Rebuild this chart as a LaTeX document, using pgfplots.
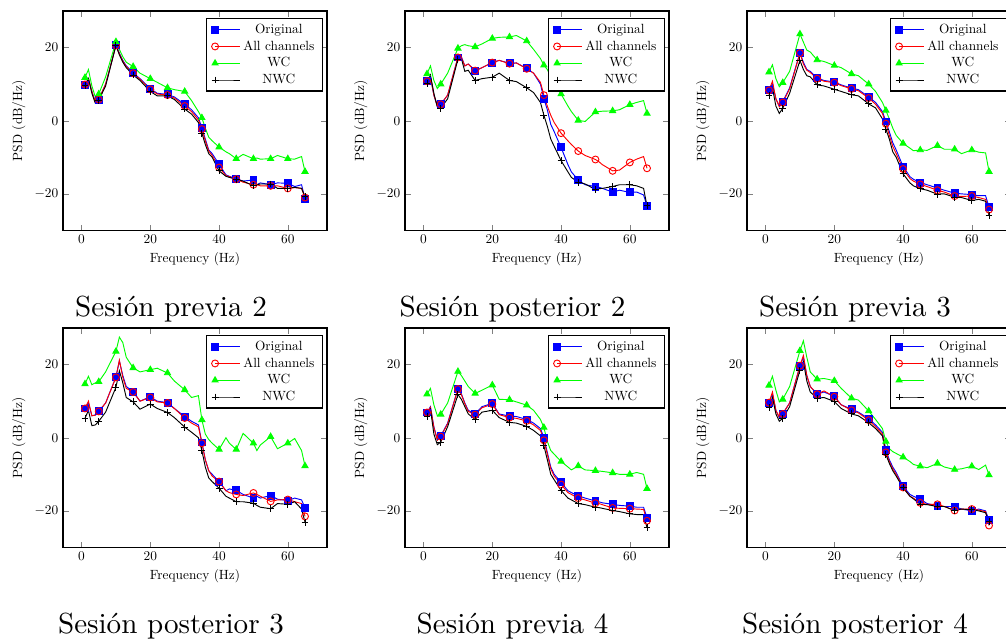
\documentclass[border=0pt]{standalone}
\usepackage{pgfplots}
\usepackage{pgfplotstable}
\pgfplotsset{compat=1.18}

% Columns: f = frequency (Hz), o = Original, a = All channels, w = WC, n = NWC
\pgfplotstableread{
f o a w n
1 9.9 9.9 11.8 9.6
2 11.5 11.5 14.0 11.5
3 8.0 8.0 9.5 7.5
4 5.2 5.0 6.5 4.8
5 5.8 5.8 7.3 5.6
7 10.0 10.0 12.0 9.5
10 20.6 20.6 21.6 20.6
11 18.5 18.3 19.5 18.0
12 16.5 16.3 17.5 16.0
13 15.0 14.8 16.0 14.5
15 13.1 13.0 14.8 12.5
17 11.5 11.3 13.0 11.0
20 8.8 8.6 11.5 8.0
22 7.5 7.3 10.5 6.8
25 7.2 7.0 9.0 6.8
27 6.5 6.2 8.5 5.8
30 4.5 4.0 8.0 3.2
32 3.0 2.5 5.5 1.8
34 0.8 0.2 2.5 -0.5
35 -1.9 -2.3 0.8 -3.4
36 -5.0 -5.5 -2.0 -6.5
37 -8.0 -8.3 -4.5 -9.0
38 -9.0 -9.5 -5.5 -10.0
40 -11.9 -12.8 -7.2 -13.7
42 -14.8 -15.0 -8.5 -15.2
43 -15.2 -15.3 -9.0 -15.5
45 -15.9 -16.0 -10.4 -16.0
47 -16.5 -16.8 -9.2 -16.5
50 -16.2 -17.5 -10.4 -17.8
51 -17.5 -17.5 -10.2 -17.5
52 -17.0 -17.8 -10.5 -17.3
55 -17.5 -17.8 -10.4 -17.3
57 -17.0 -17.8 -9.5 -18.5
60 -17.1 -18.5 -10.4 -18.5
62 -18.0 -18.3 -10.5 -18.2
64 -17.5 -18.5 -9.8 -18.5
65 -21.3 -21.0 -13.9 -20.8
}\previaDos

\pgfplotstableread{
f o a w n
1 10.8 10.8 12.8 10.2
2 12.0 12.0 15.0 12.5
3 7.0 7.0 11.0 7.5
4 4.0 4.0 8.8 3.8
5 4.5 4.5 10.0 3.4
7 7.0 7.0 13.0 6.0
10 17.3 17.3 19.8 16.8
11 17.5 17.3 20.5 17.0
12 15.0 15.0 20.8 13.5
13 15.5 15.5 20.5 13.8
15 13.6 13.7 20.2 11.0
17 14.5 14.5 21.0 11.5
20 15.9 15.9 22.5 11.9
22 16.5 16.5 22.8 13.0
25 15.7 15.6 22.9 11.0
27 15.8 15.8 23.3 10.7
30 14.3 14.2 21.8 9.0
32 13.0 13.0 19.5 7.7
34 10.0 10.5 17.0 5.0
35 6.0 7.0 15.2 1.5
36 3.0 4.0 14.0 -1.5
37 -1.0 1.5 12.0 -5.0
38 -3.0 -0.5 10.0 -7.0
40 -7.3 -3.4 7.3 -10.9
42 -12.0 -5.5 4.0 -14.0
43 -14.0 -6.5 2.5 -15.5
45 -16.2 -8.3 0.1 -16.8
47 -17.5 -9.5 -0.2 -17.3
50 -18.0 -10.6 2.4 -18.8
51 -18.2 -11.2 2.5 -18.6
52 -18.5 -12.0 2.6 -18.5
55 -19.5 -13.7 2.7 -18.0
57 -19.0 -13.5 3.0 -17.5
60 -19.6 -11.4 4.4 -17.5
62 -19.5 -10.5 5.0 -17.8
64 -20.3 -9.8 5.5 -18.5
65 -23.3 -13.0 2.0 -23.3
}\posteriorDos

\pgfplotstableread{
f o a w n
1 8.5 8.3 13.3 6.9
2 10.0 10.8 15.3 9.0
3 6.0 6.0 11.5 4.0
4 4.0 3.8 9.3 2.0
5 5.2 5.0 10.4 3.4
7 9.0 8.7 13.5 7.5
10 18.6 18.5 23.7 16.5
11 16.0 15.5 21.5 14.0
12 14.0 13.8 19.3 12.3
13 13.5 13.2 18.8 12.0
15 11.7 11.5 16.6 9.8
17 11.0 10.8 16.2 9.5
20 10.6 10.4 15.1 8.6
22 9.8 9.6 14.5 8.0
25 8.9 8.7 12.8 7.1
27 8.5 8.2 12.3 6.8
30 6.5 6.2 10.0 4.6
32 5.0 4.5 8.0 3.5
34 2.5 2.0 5.0 0.5
35 -0.2 -0.8 2.8 -2.3
36 -3.0 -4.0 0.5 -5.0
37 -6.0 -7.0 -2.0 -8.5
38 -8.0 -9.0 -4.0 -10.0
40 -12.5 -13.2 -6.2 -14.5
42 -15.3 -15.8 -7.5 -17.0
43 -16.0 -16.5 -8.2 -17.8
45 -16.9 -17.4 -8.0 -18.6
47 -17.5 -18.0 -8.1 -19.0
50 -18.4 -19.0 -6.8 -20.1
51 -18.7 -19.3 -7.3 -20.0
52 -19.0 -19.5 -7.8 -20.0
55 -19.8 -20.6 -7.8 -20.9
57 -20.0 -20.7 -9.0 -21.0
60 -20.2 -20.6 -8.0 -21.8
62 -20.5 -21.0 -8.6 -21.5
64 -20.5 -21.5 -8.8 -22.0
65 -23.6 -24.3 -13.9 -25.9
}\previaTres

\pgfplotstableread{
f o a w n
1 8.0 8.0 14.7 5.3
2 9.5 10.0 16.8 7.5
3 6.0 6.0 14.5 3.3
4 6.2 6.2 15.0 3.5
5 7.2 7.2 15.3 4.5
7 9.5 9.5 18.0 7.0
10 16.6 16.5 23.6 13.8
11 21.0 21.2 27.5 18.3
12 17.0 16.5 26.0 15.0
13 14.0 13.5 22.0 11.0
15 12.6 12.5 19.1 9.8
17 10.0 10.0 18.0 7.8
20 11.2 11.0 18.6 9.2
22 10.0 9.8 19.0 8.0
25 9.6 9.5 17.7 6.9
27 8.0 8.0 15.5 5.5
30 5.8 5.4 13.1 2.9
32 4.5 4.0 11.0 1.5
34 3.5 3.0 11.5 0.0
35 -1.3 -1.5 4.9 -3.5
36 -6.0 -6.0 1.0 -8.0
37 -9.0 -9.0 -0.5 -11.0
38 -10.0 -10.5 -1.5 -12.0
40 -12.0 -12.0 -3.2 -13.8
42 -14.5 -14.5 0.0 -16.0
43 -14.0 -15.0 -1.5 -16.5
45 -14.4 -15.5 -3.2 -17.5
47 -15.5 -15.8 1.2 -17.5
50 -16.5 -15.1 -1.5 -17.9
51 -16.0 -15.5 -3.5 -18.5
52 -16.5 -16.0 -2.0 -19.0
55 -15.8 -17.4 0.3 -19.4
57 -16.8 -17.0 -3.0 -18.0
60 -17.2 -16.9 -1.5 -18.2
62 -16.5 -17.5 -0.2 -17.5
64 -17.0 -18.0 -3.5 -19.5
65 -19.2 -21.5 -7.7 -23.1
}\posteriorTres

\pgfplotstableread{
f o a w n
1 6.9 6.9 11.9 5.9
2 8.5 8.3 13.5 7.8
3 3.0 2.8 9.0 1.0
4 -0.5 -0.7 6.0 -1.9
5 0.5 0.3 6.4 -1.2
7 4.0 3.8 9.5 3.0
10 13.4 13.3 18.1 11.8
11 12.0 11.8 17.0 10.5
12 9.5 9.3 15.5 8.5
13 7.5 7.2 14.0 6.5
15 6.5 6.3 12.1 5.0
17 8.5 8.2 13.0 7.0
20 9.4 9.2 14.4 7.5
22 6.5 6.3 10.5 5.5
25 5.9 5.5 10.4 4.2
27 5.8 5.3 9.8 4.0
30 5.0 4.6 8.9 3.1
32 4.0 3.5 7.5 2.0
34 2.5 2.0 5.0 0.5
35 0.0 -0.7 2.8 -2.2
36 -4.0 -4.5 -1.0 -6.0
37 -8.0 -8.5 -3.5 -10.0
38 -10.0 -10.5 -4.5 -11.5
40 -12.2 -12.8 -6.5 -14.4
42 -14.5 -15.0 -8.0 -16.5
43 -15.0 -15.5 -8.8 -17.0
45 -15.9 -16.5 -7.7 -18.0
47 -16.5 -17.0 -8.8 -18.3
50 -17.3 -17.9 -9.0 -19.0
51 -17.5 -18.0 -9.1 -19.1
52 -17.8 -18.3 -9.2 -19.3
55 -18.2 -19.2 -9.6 -19.9
57 -18.5 -19.3 -10.0 -20.2
60 -18.7 -19.4 -10.0 -20.8
62 -19.0 -19.5 -9.5 -21.0
64 -19.0 -19.6 -10.0 -21.0
65 -21.9 -22.7 -13.9 -24.6
}\previaCuatro

\pgfplotstableread{
f o a w n
1 9.6 9.6 14.3 8.3
2 12.0 12.5 16.8 11.0
3 7.5 7.5 13.0 6.5
4 5.5 5.5 9.8 4.5
5 6.6 6.5 10.5 5.3
7 9.5 9.5 14.0 8.5
10 19.7 19.7 23.8 18.5
11 22.0 22.5 26.5 20.8
12 17.0 17.0 22.0 15.5
13 14.0 14.0 18.0 12.5
15 11.9 11.9 16.0 10.8
17 12.5 12.8 16.2 11.0
20 11.3 11.2 15.6 9.9
22 9.0 9.0 13.5 8.0
25 7.8 7.5 10.8 6.5
27 7.0 6.8 10.3 6.0
30 5.2 4.8 7.3 4.1
32 3.5 3.0 5.0 2.5
34 1.5 1.0 2.5 0.5
35 -3.4 -4.0 -1.0 -4.6
36 -6.0 -6.5 -3.0 -7.0
37 -8.0 -8.5 -3.8 -9.0
38 -9.5 -10.0 -4.3 -10.5
40 -13.3 -13.6 -5.3 -13.7
42 -15.5 -16.0 -6.5 -16.0
43 -16.0 -16.5 -7.3 -16.7
45 -16.8 -17.8 -7.8 -18.2
47 -18.0 -18.2 -8.2 -18.3
50 -18.6 -18.2 -7.0 -18.8
51 -18.8 -18.5 -7.5 -18.8
52 -18.8 -18.8 -8.0 -18.8
55 -18.8 -19.9 -8.7 -19.9
57 -19.5 -19.5 -8.5 -19.5
60 -20.0 -19.5 -7.8 -19.7
62 -19.5 -19.8 -8.7 -20.0
64 -20.0 -20.2 -7.5 -20.5
65 -22.5 -24.0 -10.2 -23.0
}\posteriorCuatro

% sub-figure captions: Latin Modern Roman 10 design, scaled up
\font\capfont="[lmroman10-regular]:mapping=tex-text" at 21.8pt

\pgfplotsset{
  psd/.style={
    scale only axis,
    width=198pt, height=164.6pt,
    anchor=north west,
    xmin=-5.4, xmax=71.4, ymin=-30, ymax=30,
    xtick={0,20,40,60}, ytick={-20,0,20},
    xlabel={Frequency (Hz)}, ylabel={PSD (dB/Hz)},
    axis line style={line width=0.9pt},
    legend style={at={(0.985,0.968)}, anchor=north east, draw=black,
      line width=0.9pt, fill=white, inner xsep=4pt},
    legend cell align=center,
    % legend sample: mark at the left end of a slightly longer line
    legend image code/.code={%
      \draw[#1] plot coordinates {(0cm,0cm) (0.33cm,0cm) (0.66cm,0cm)};},
    every axis plot/.append style={line width=0.7pt, mark size=2.6pt,
      mark indices={1,5,7,11,13,15,17,20,24,27,29,32,34,37}},
  },
}

% the four spectra of one session
\newcommand\psdcurves[1]{%
  \addplot[blue, mark=square*] table[x=f, y=o]{#1};
  \addplot[red, mark=o] table[x=f, y=a]{#1};
  \addplot[green, mark=triangle*] table[x=f, y=w]{#1};
  \addplot[black, mark=+] table[x=f, y=n]{#1};
  \legend{Original, All channels, WC, NWC}
}

\begin{document}
\begin{tikzpicture}
\useasboundingbox (0,0) rectangle (754.5pt,479.25pt);

\begin{axis}[psd, at={(47.25pt,471pt)}]
  \psdcurves{\previaDos}
\end{axis}
\begin{axis}[psd, at={(303.75pt,471pt)}]
  \psdcurves{\posteriorDos}
\end{axis}
\begin{axis}[psd, at={(560.25pt,471pt)}]
  \psdcurves{\previaTres}
\end{axis}
\begin{axis}[psd, at={(47.25pt,233.25pt)}]
  \psdcurves{\posteriorTres}
\end{axis}
\begin{axis}[psd, at={(303.75pt,233.25pt)}]
  \psdcurves{\previaCuatro}
\end{axis}
\begin{axis}[psd, at={(560.25pt,233.25pt)}]
  \psdcurves{\posteriorCuatro}
\end{axis}

\begin{scope}[every node/.style={anchor=base, inner sep=0pt, font=\capfont}]
  \node at (128.25pt,241.5pt) {Sesión previa 2};
  \node at (384.4pt,241.5pt) {Sesión posterior 2};
  \node at (641.25pt,241.5pt) {Sesión previa 3};
  \node at (128.25pt,4.5pt) {Sesión posterior 3};
  \node at (384.4pt,4.5pt) {Sesión previa 4};
  \node at (641.25pt,4.5pt) {Sesión posterior 4};
\end{scope}
\end{tikzpicture}
\end{document}
